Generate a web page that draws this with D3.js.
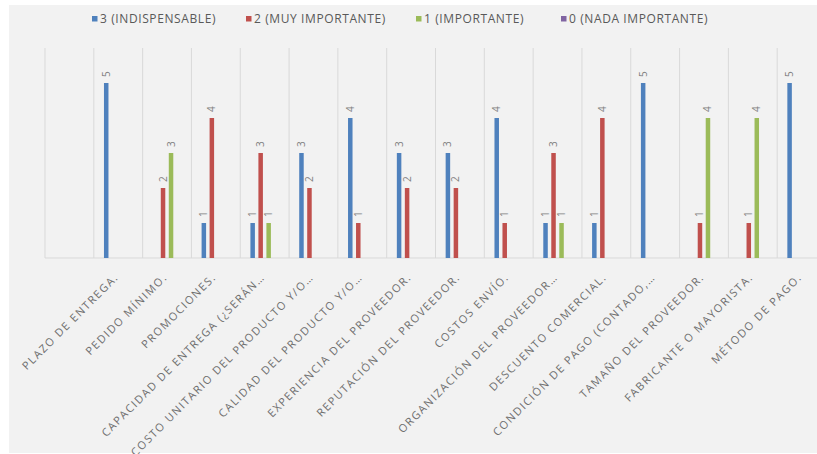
<!DOCTYPE html>
<html>
<head>
<meta charset="utf-8">
<script src="https://cdn.jsdelivr.net/npm/d3@7"></script>
<style>
  html, body { margin: 0; padding: 0; background: #fff; }
  svg { display: block; }
  text { font-family: "Open Sans", "Noto Sans", sans-serif; }
</style>
</head>
<body>
<svg id="chart" width="817" height="454"></svg>
<script>
// ── Datos ───────────────────────────────────────────────────────────
const CATEGORIES = [
  "",
  "PLAZO DE ENTREGA.",
  "PEDIDO MÍNIMO.",
  "PROMOCIONES.",
  "CAPACIDAD DE ENTREGA (¿SERÁN…",
  "COSTO UNITARIO DEL PRODUCTO Y/O…",
  "CALIDAD DEL PRODUCTO Y/O…",
  "EXPERIENCIA DEL PROVEEDOR.",
  "REPUTACIÓN DEL PROVEEDOR.",
  "COSTOS ENVÍO.",
  "ORGANIZACIÓN DEL PROVEEDOR…",
  "DESCUENTO COMERCIAL.",
  "CONDICIÓN DE PAGO (CONTADO,…",
  "TAMAÑO DEL PROVEEDOR.",
  "FABRICANTE O MAYORISTA.",
  "MÉTODO DE PAGO."
];

const SERIES = ["3 (INDISPENSABLE)", "2 (MUY IMPORTANTE)", "1 (IMPORTANTE)", "0 (NADA IMPORTANTE)"];
const COLORS = ["#4f81bd", "#c0504d", "#9bbb59", "#8064a2"];

const S3 = [0, 5, 0, 1, 1, 3, 4, 3, 3, 4, 1, 1, 5, 0, 0, 5];
const S2 = [0, 0, 2, 4, 3, 2, 1, 2, 2, 1, 3, 4, 0, 1, 1, 0];
const S1 = [0, 0, 3, 0, 1, 0, 0, 0, 0, 0, 1, 0, 0, 4, 4, 0];
const S0 = [0, 0, 0, 0, 0, 0, 0, 0, 0, 0, 0, 0, 0, 0, 0, 0];
const VALUES = [S3, S2, S1, S0];

// ── Setup ───────────────────────────────────────────────────────────
const svg = d3.select("#chart");

svg.append("rect")
  .attr("x", 9).attr("y", 5)
  .attr("width", 808).attr("height", 448)
  .attr("fill", "#f2f2f2");

const plot = { left: 45, right: 826, top: 48, bottom: 258 };

const x = d3.scaleBand()
  .domain(d3.range(CATEGORIES.length))
  .range([plot.left, plot.right])
  .padding(0);

const xSub = d3.scaleBand()
  .domain(d3.range(SERIES.length))
  .range([-16, 16])
  .padding(0);

const y = d3.scaleLinear().domain([0, 6]).range([plot.bottom, plot.top]);

// ── Gridlines ───────────────────────────────────────────────────────
const grid = svg.append("g");
grid.selectAll("line.v")
  .data(d3.range(CATEGORIES.length + 1))
  .join("line")
  .attr("class", "v")
  .attr("x1", i => plot.left + i * x.step())
  .attr("x2", i => plot.left + i * x.step())
  .attr("y1", plot.top).attr("y2", plot.bottom)
  .attr("stroke", "#d9d9d9").attr("stroke-width", 1);

grid.append("line")
  .attr("x1", plot.left).attr("x2", plot.right)
  .attr("y1", plot.bottom).attr("y2", plot.bottom)
  .attr("stroke", "#d9d9d9").attr("stroke-width", 1);

// ── Barras ──────────────────────────────────────────────────────────
const barW = 4.5;
const bars = [];
VALUES.forEach((vals, s) => {
  vals.forEach((v, c) => {
    if (v > 0) bars.push({ s, c, v });
  });
});

const cx = d => x(d.c) + x.bandwidth() / 2 + xSub(d.s) + xSub.bandwidth() / 2;

svg.append("g").selectAll("rect")
  .data(bars)
  .join("rect")
  .attr("x", d => cx(d) - barW / 2)
  .attr("y", d => y(d.v))
  .attr("width", barW)
  .attr("height", d => y(0) - y(d.v))
  .attr("fill", d => COLORS[d.s]);

// Etiquetas de datos
svg.append("g").selectAll("text")
  .data(bars)
  .join("text")
  .attr("transform", d => `translate(${cx(d) + 3.5},${y(d.v) - 6}) rotate(-90)`)
  .attr("font-size", 10)
  .attr("fill", "#7f7f7f")
  .text(d => d.v);

// ── Eje X ───────────────────────────────────────────────────────────
svg.append("g").selectAll("text")
  .data(CATEGORIES.map((t, i) => ({ t, i })).filter(d => d.t))
  .join("text")
  .attr("transform", d => `translate(${x(d.i) + x.bandwidth() / 2 + 1},${plot.bottom + 20}) rotate(-45)`)
  .attr("text-anchor", "end")
  .attr("font-size", 11)
  .attr("letter-spacing", 1.5)
  .attr("fill", "#6f6f6f")
  .text(d => d.t);

// ── Leyenda ─────────────────────────────────────────────────────────
const LEGEND_X = [92, 246, 416, 561];
const legend = svg.append("g");
SERIES.forEach((name, i) => {
  legend.append("rect")
    .attr("x", LEGEND_X[i]).attr("y", 16)
    .attr("width", 5.5).attr("height", 5.5)
    .attr("fill", COLORS[i]);
  legend.append("text")
    .attr("x", LEGEND_X[i] + 8).attr("y", 23)
    .attr("font-size", 12)
    .attr("letter-spacing", 0.6)
    .attr("fill", "#595959")
    .text(name);
});
</script>
</body>
</html>
